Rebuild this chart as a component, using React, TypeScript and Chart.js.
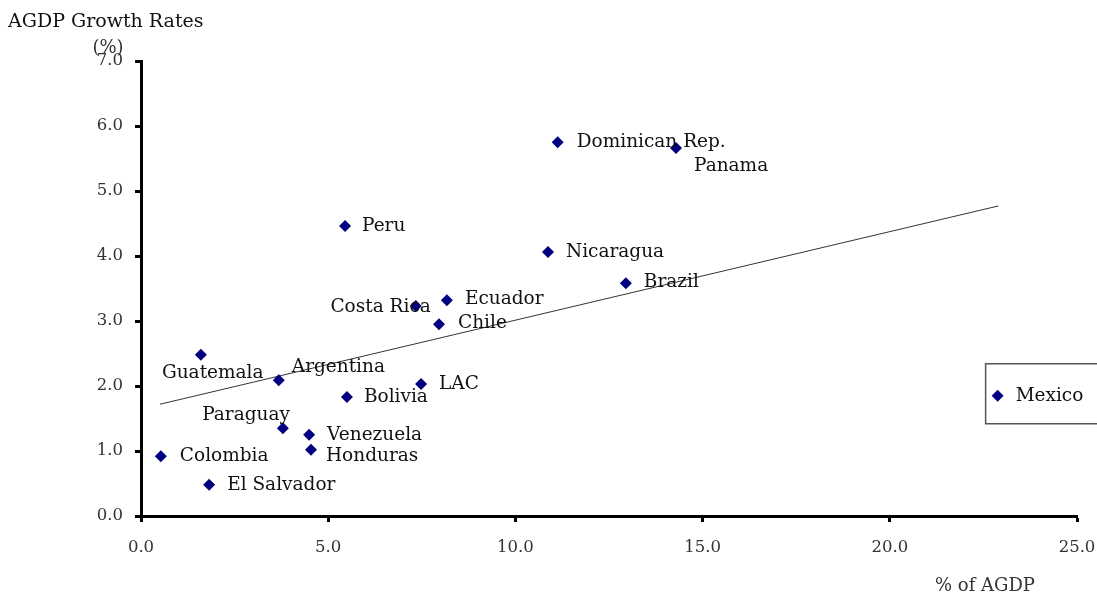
import React, { useEffect, useRef } from "react";
import { Chart, registerables } from "chart.js";

Chart.register(...registerables);

const countries = [
  "Dominican Rep.", "Panama", "Peru", "Nicaragua", "Brazil", "Ecuador", "Costa Rica", "Chile",
  "Guatemala", "Argentina", "LAC", "Bolivia", "Paraguay", "Venezuela", "Honduras", "Colombia",
  "El Salvador", "Mexico",
];
const agdpShare = [11.13, 14.29, 5.45, 10.87, 12.95, 8.17, 7.34, 7.96, 1.6, 3.68, 7.48, 5.5, 3.79, 4.49, 4.54, 0.53, 1.82, 22.88];
const growthRate = [5.75, 5.66, 4.46, 4.06, 3.58, 3.32, 3.23, 2.95, 2.48, 2.09, 2.03, 1.83, 1.35, 1.25, 1.02, 0.92, 0.48, 1.85];
const trendX = [0.51, 22.9];
const trendY = [1.72, 4.77];
const xTicks = [0, 5, 10, 15, 20, 25];
const yTicks = [0, 1, 2, 3, 4, 5, 6, 7];

// label placement (pixel offsets from the point; align)
const labelStyle: Record<string, { dx: number; dy: number; align: CanvasTextAlign }> = {
  "Dominican Rep.": { dx: 19, dy: 0, align: "left" },
  Panama: { dx: 18, dy: 18, align: "left" },
  Peru: { dx: 17, dy: 0, align: "left" },
  Nicaragua: { dx: 18, dy: 0, align: "left" },
  Brazil: { dx: 18, dy: -1, align: "left" },
  Ecuador: { dx: 18, dy: -1, align: "left" },
  "Costa Rica": { dx: 15, dy: 1, align: "right" },
  Chile: { dx: 19, dy: -1, align: "left" },
  Guatemala: { dx: -39, dy: 18, align: "left" },
  Argentina: { dx: 13, dy: -13, align: "left" },
  LAC: { dx: 18, dy: 0, align: "left" },
  Bolivia: { dx: 17, dy: 0, align: "left" },
  Paraguay: { dx: 7, dy: -13, align: "right" },
  Venezuela: { dx: 18, dy: 0, align: "left" },
  Honduras: { dx: 15, dy: 6, align: "left" },
  Colombia: { dx: 19, dy: 0, align: "left" },
  "El Salvador": { dx: 18, dy: 0, align: "left" },
  Mexico: { dx: 18, dy: 0, align: "left" },
};

const FONT = "'DejaVu Serif', 'Liberation Serif', serif";
const NAVY = "#000080";

export default function App() {
  const ref = useRef<HTMLCanvasElement>(null);

  useEffect(() => {
    if (!ref.current) return;
    const labelPlugin = {
      id: "labels",
      afterDatasetsDraw(chart: any) {
        const ctx = chart.ctx as CanvasRenderingContext2D;
        const xs = chart.scales.x;
        const ys = chart.scales.y;
        ctx.save();
        ctx.font = `18.5px ${FONT}`;
        ctx.fillStyle = "#111";
        ctx.textBaseline = "middle";
        countries.forEach((name, i) => {
          const px = xs.getPixelForValue(agdpShare[i]);
          const py = ys.getPixelForValue(growthRate[i]);
          const s = labelStyle[name];
          if (name === "Mexico") {
            ctx.save();
            ctx.strokeStyle = "#555";
            ctx.lineWidth = 1.5;
            ctx.strokeRect(px - 12, py - 32, 130, 60);
            ctx.restore();
          }
          ctx.textAlign = s.align;
          ctx.fillText(name, px + s.dx, py + s.dy);
        });
        // axis titles
        ctx.fillStyle = "#111";
        ctx.textAlign = "left";
        ctx.font = `19px ${FONT}`;
        ctx.fillText("AGDP Growth Rates", 8, 22);
        ctx.textAlign = "center";
        ctx.fillStyle = "#333";
        ctx.font = `18px ${FONT}`;
        ctx.fillText("(%)", 108, 48);
        ctx.fillText("% of AGDP", 985, 586);
        ctx.restore();
      },
    };

    const chart = new Chart(ref.current, {
      type: "scatter",
      data: {
        datasets: [
          {
            label: "Countries",
            data: agdpShare.map((x, i) => ({ x, y: growthRate[i] })),
            backgroundColor: NAVY,
            borderColor: NAVY,
            pointStyle: "rectRot",
            pointRadius: 6,
            borderWidth: 0,
          },
          {
            type: "line",
            label: "Trend",
            data: trendX.map((x, i) => ({ x, y: trendY[i] })),
            borderColor: "#333",
            borderWidth: 1,
            pointRadius: 0,
            fill: false,
          } as any,
        ],
      },
      options: {
        responsive: false,
        animation: false,
        events: [],
        layout: { padding: { left: 0, top: 61, right: 20, bottom: 0 } },
        plugins: { legend: { display: false }, tooltip: { enabled: false }, title: { display: false } },
        scales: {
          x: {
            type: "linear",
            min: 0,
            max: 25,
            afterBuildTicks: (s: any) => { s.ticks = xTicks.map((v) => ({ value: v })); },
            afterFit: (s: any) => { s.height = 78; s.paddingLeft = 0; s.paddingRight = 0; },
            ticks: {
              callback: (v: any) => Number(v).toFixed(1),
              font: { family: FONT, size: 16.5 },
              color: "#333",
              padding: 16,
              maxRotation: 0,
            },
            grid: { drawOnChartArea: false, tickLength: 6, tickWidth: 3, tickColor: "#000" },
            border: { display: true, color: "#000", width: 3 },
          },
          y: {
            type: "linear",
            min: 0,
            max: 7,
            afterBuildTicks: (s: any) => { s.ticks = yTicks.map((v) => ({ value: v })); },
            afterFit: (s: any) => { s.width = 141; s.paddingTop = 0; s.paddingBottom = 0; },
            ticks: {
              callback: (v: any) => Number(v).toFixed(1),
              font: { family: FONT, size: 16.5 },
              color: "#333",
              padding: 12,
            },
            grid: { drawOnChartArea: false, tickLength: 6, tickWidth: 3, tickColor: "#000" },
            border: { display: true, color: "#000", width: 3 },
          },
        },
      },
      plugins: [labelPlugin],
    });
    return () => chart.destroy();
  }, []);

  return (
    <div style={{ position: "absolute", left: 0, top: 0, width: 1097, height: 594, background: "#fff" }}>
      <canvas ref={ref} width={1097} height={594} />
    </div>
  );
}
